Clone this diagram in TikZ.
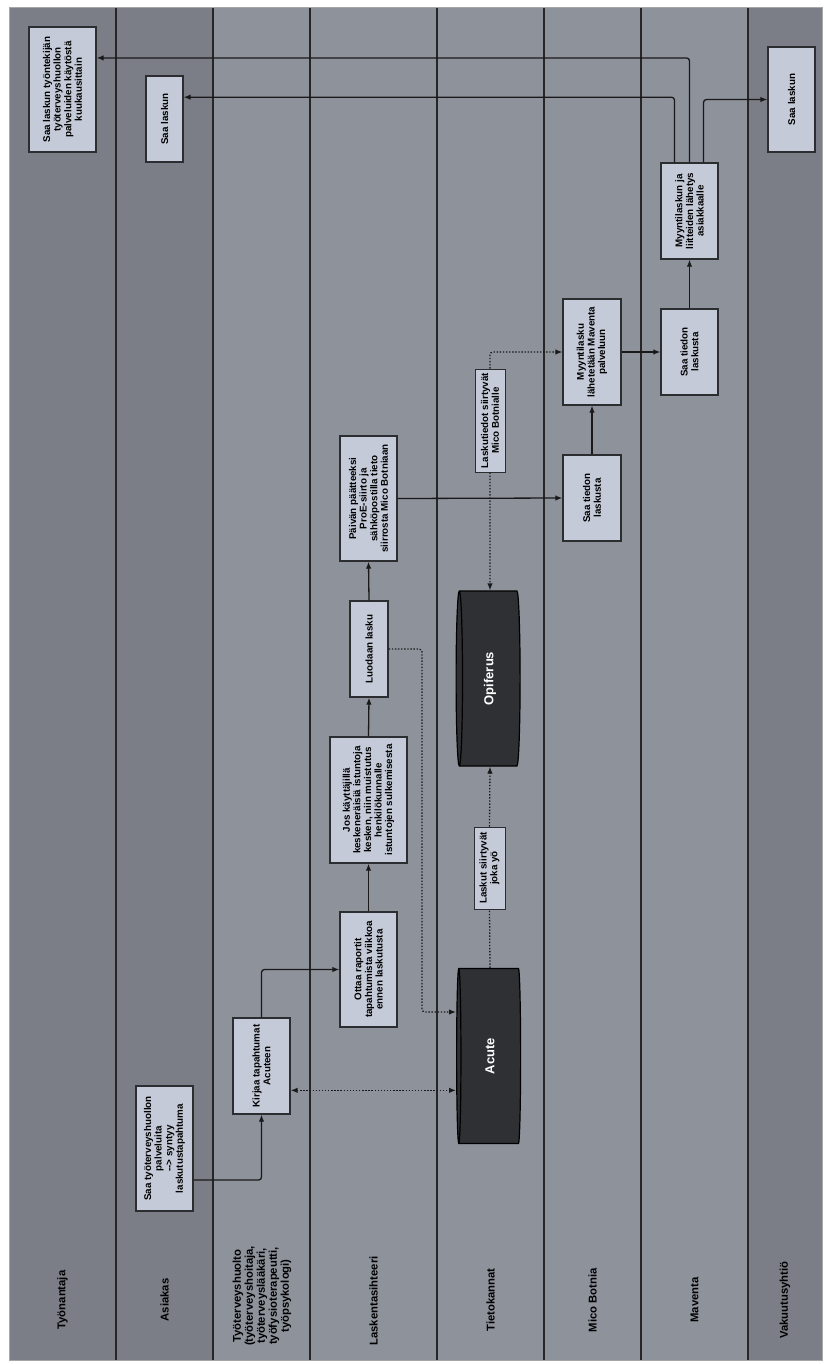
\documentclass[tikz,border=0pt]{standalone}
\usepackage{fontspec}
\setmainfont{Liberation Sans}
\usetikzlibrary{shapes.geometric,arrows.meta,calc}
\definecolor{lanedark}{HTML}{7B7E86}
\definecolor{lanelight}{HTML}{8E929B}
\definecolor{boxfill}{HTML}{C5CAD8}
\definecolor{boxline}{HTML}{2B2D31}
\definecolor{dbfill}{HTML}{2E3033}
\begin{document}
\begin{tikzpicture}[x=1pt,y=-1pt,>={Latex[length=7pt,width=5.5pt]},
  task/.style={draw=boxline,line width=1.3pt,fill=boxfill,rotate=90,align=center,inner sep=2pt,
    font=\bfseries\fontsize{9.8}{10.6}\selectfont},
  note/.style={task,line width=1pt},
  db/.style={cylinder,shape border rotate=180,aspect=0.12,draw=black,line width=1.2pt,fill=dbfill,
    text=white,font=\bfseries\fontsize{13}{15}\selectfont,minimum width=175pt,minimum height=64pt,inner sep=0pt},
  lanelabel/.style={rotate=90,align=center,font=\bfseries\fontsize{11.3}{12}\selectfont},
  flow/.style={line width=1.3pt,draw=black!90,rounded corners=3pt,->},
  dotflow/.style={flow,dash pattern=on 1.4pt off 1.7pt}]
\useasboundingbox (0,0) rectangle (825,1364);
% lanes
\fill[lanedark] (9,8) rectangle (213,1360);
\fill[lanelight] (213,8) rectangle (748,1360);
\fill[lanedark] (748,8) rectangle (822,1360);
\draw[gray!70,line width=1pt] (9,8) rectangle (822,1360);
\foreach \x in {116,213,310,437,544,641,748}
  \draw[black!85,line width=1.2pt] (\x,8) -- (\x,1360);
\node[lanelabel] (l1) at (62.5,1300) {Työnantaja};
\node[lanelabel] (l2) at (164.5,1300) {Asiakas};
\node[lanelabel] (l3) at (262,1296) {Työterveyshuolto\\(työterveyshoitaja,\\työterveyslääkäri,\\työfysioterapeutti,\\työpsykologi)};
\node[lanelabel] (l4) at (373.5,1301) {Laskentasihteeri};
\node[lanelabel] (l5) at (490.5,1300) {Tietokannat};
\node[lanelabel] (l6) at (592.5,1300) {Mico Botnia};
\node[lanelabel] (l7) at (694.5,1300) {Maventa};
\node[lanelabel] (l8) at (785,1300) {Vakuutusyhtiö};
% tasks
\node[task,minimum width=125pt,minimum height=67pt] (tb) at (62.5,89.5) {Saa laskun työntekijän\\työterveyshuollon\\palveluiden käytöstä\\kuukausittain};
\node[task,minimum width=86pt,minimum height=37pt] (ab) at (164.5,119) {Saa laskun};
\node[task,minimum width=105pt,minimum height=47pt] (vb) at (791.5,99.5) {Saa laskun};
\node[task,minimum width=125pt,minimum height=57pt] (as1) at (164.5,1148.5) {Saa työterveyshuollon\\palveluita\\-\kern0pt-\kern0pt> syntyy\\laskutustapahtuma};
\node[task,minimum width=96pt,minimum height=57pt] (th1) at (261.5,1066) {Kirjaa tapahtumat\\Acuteen};
\node[task,minimum width=115pt,minimum height=57pt] (ls1) at (368.5,969.5) {Ottaa raportit\\tapahtumista viikkoa\\ennen laskutusta};
\node[task,minimum width=126pt,minimum height=77pt] (ls2) at (368.5,800) {Jos käyttäjillä\\keskeneräisiä istuntoja\\kesken, niin muistutus\\henkilökunnalle\\istuntojen sulkemisesta};
\node[task,minimum width=96pt,minimum height=38pt] (ls3) at (369,649) {Luodaan lasku};
\node[task,minimum width=125pt,minimum height=57pt] (ls4) at (368.5,498.5) {Päivän päätteeksi\\ProE-siirto ja\\sähköpostilla tieto\\siirrosta Mico Botniaan};
\node[task,minimum width=86pt,minimum height=58pt] (mb1) at (592,498) {Saa tiedon\\laskusta};
\node[task,minimum width=106pt,minimum height=58pt] (mb2) at (592,352) {Myyntilasku\\lähetetään Maventa\\palveluun};
\node[task,minimum width=86pt,minimum height=57pt] (mv1) at (689.5,352) {Saa tiedon\\laskusta};
\node[task,minimum width=96pt,minimum height=57pt] (mv2) at (689.5,211) {Myyntilaskun ja\\liitteiden lähetys\\asiakkaalle};
% databases
\node[db] (acute) at (490,1056) {\rotatebox{90}{Acute}};
\node[db] (opif) at (490,678.5) {\rotatebox{90}{Opiferus}};
\node[note,minimum width=82pt,minimum height=31pt] (lbl1) at (489.5,868) {Laskut siirtyvät\\joka yö};
\node[note,minimum width=103pt,minimum height=30pt] (lbl2) at (490,420.5) {Laskutiedot siirtyvät\\Mico Botnialle};
% flows
\draw[flow] ($(as1.south west)!.5!(as1.south)$) -| (th1.west);
\draw[flow] (th1.east) |- (ls1.north);
\draw[flow] (ls1.east) -- (ls2.west);
\draw[flow] (ls2.east) -- (ls3.west);
\draw[flow] (ls3.east) -- (ls4.west);
\draw[flow] (ls4.south) -- (mb1.north);
\draw[flow] (mb1.east) -- (mb2.west);
\draw[flow] (mb2.south) -- (mv1.north);
\draw[flow] (mv1.east) -- (mv2.west);
\draw[flow] ($(mv2.east)+(-15,0)$) |- ($(ab.south east)!.5!(ab.south)$);
\draw[flow] (mv2.east) |- ($(tb.south east)!.5!(tb.south)$);
\draw[flow] ($(mv2.east)+(14,0)$) |- (vb.north);
% data transfers
\coordinate (th1out) at ($(th1.south west)!.5!(th1.south)$);
\coordinate (bend) at (422,1012);
\draw[dotflow,<->] (th1out) -- (th1out -| acute.west);
\draw[dotflow] (ls3.south) -| (bend) -- (bend -| acute.west);
\draw[dotflow,-] (acute.north) -- (lbl1.west);
\draw[dotflow] (lbl1.east) -- (opif.south);
\draw[dotflow] (lbl2.west) -- (opif.north);
\draw[dotflow] (lbl2.east) |- (mb2.north);
\end{tikzpicture}
\end{document}
